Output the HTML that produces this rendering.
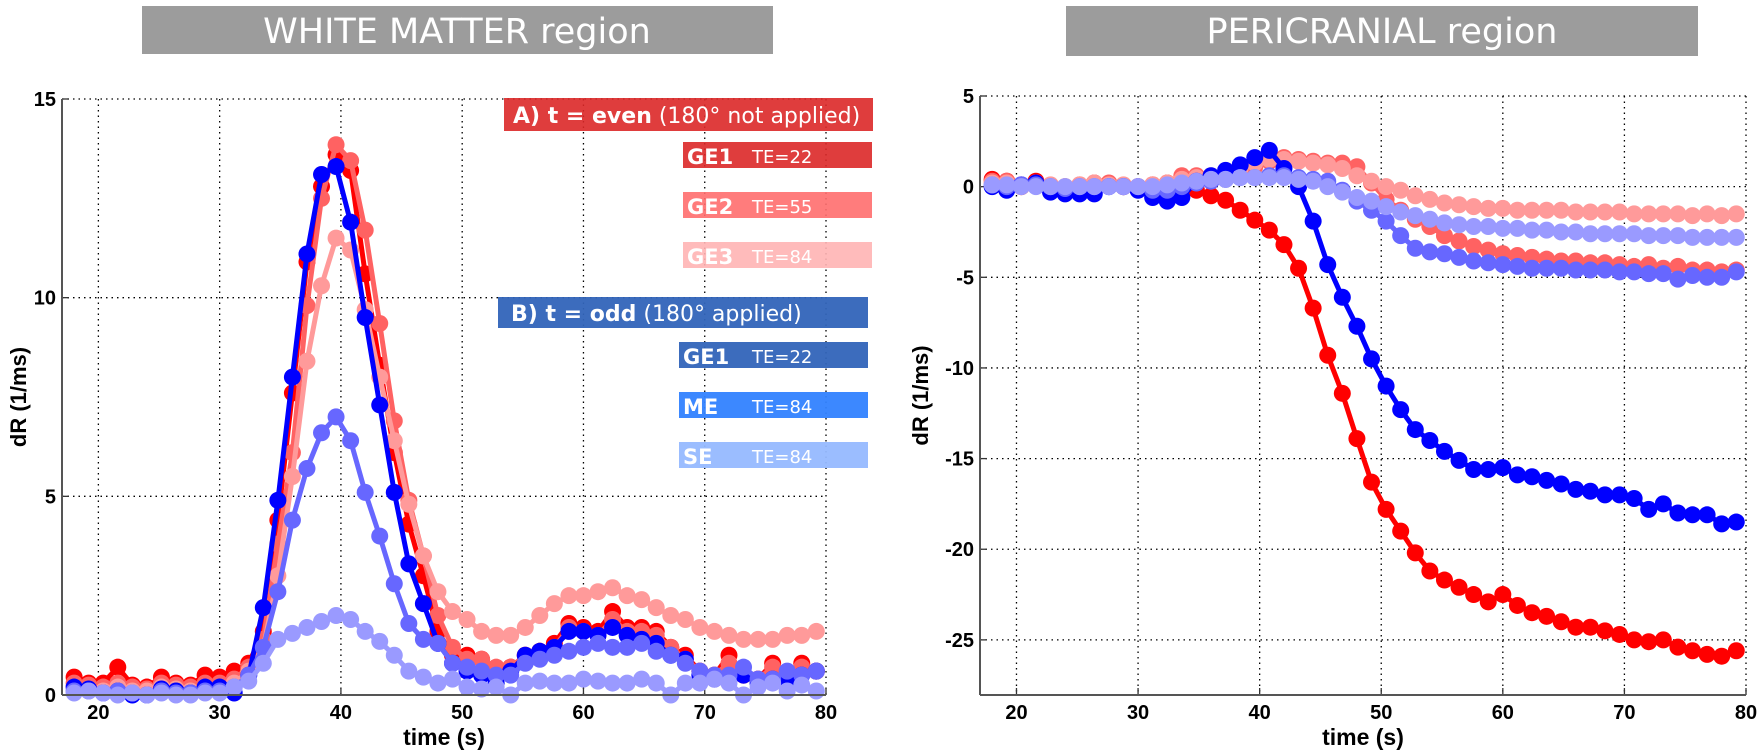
<!DOCTYPE html>
<html><head><meta charset="utf-8"><style>
html,body{margin:0;padding:0;background:#fff;}
#wrap{position:relative;width:1758px;height:751px;overflow:hidden;}
svg text{font-family:"Liberation Sans",sans-serif;}
</style></head><body>
<div id="wrap">
<svg id="fig" width="1758" height="751" xmlns="http://www.w3.org/2000/svg">
<rect x="142" y="6" width="631" height="48" fill="#9c9c9c"/>
<text x="457" y="43" text-anchor="middle" fill="#fff" style="font-family:'DejaVu Sans',sans-serif;font-size:35px">WHITE MATTER region</text>
<rect x="1066" y="6" width="632" height="50" fill="#9c9c9c"/>
<text x="1382" y="43" text-anchor="middle" fill="#fff" style="font-family:'DejaVu Sans',sans-serif;font-size:35px">PERICRANIAL region</text>
<g id="left"></g>
<g id="right"></g>
<g id="legend" style="font-family:'DejaVu Sans',sans-serif">
<rect x="504" y="98" width="369" height="33" fill="rgb(220,40,40)" fill-opacity="0.9"/>
<text x="513" y="123" fill="#fff" style="font-family:'DejaVu Sans',sans-serif;font-size:22px"><tspan font-weight="bold">A)  t = even</tspan> (180° not applied)</text>
<rect x="683" y="142" width="189" height="26" fill="rgb(220,40,40)" fill-opacity="0.9"/>
<text x="687" y="164" fill="#fff" style="font-family:'DejaVu Sans',sans-serif;font-size:21px;font-weight:bold">GE1</text>
<text x="752" y="163" fill="#fff" style="font-family:'DejaVu Sans',sans-serif;font-size:18px">TE=22</text>
<rect x="683" y="192" width="189" height="26" fill="rgb(255,110,110)" fill-opacity="0.9"/>
<text x="687" y="214" fill="#fff" style="font-family:'DejaVu Sans',sans-serif;font-size:21px;font-weight:bold">GE2</text>
<text x="752" y="213" fill="#fff" style="font-family:'DejaVu Sans',sans-serif;font-size:18px">TE=55</text>
<rect x="683" y="242" width="189" height="26" fill="rgb(255,180,180)" fill-opacity="0.9"/>
<text x="687" y="264" fill="#fff" style="font-family:'DejaVu Sans',sans-serif;font-size:21px;font-weight:bold">GE3</text>
<text x="752" y="263" fill="#fff" style="font-family:'DejaVu Sans',sans-serif;font-size:18px">TE=84</text>
<rect x="498" y="297" width="370" height="31" fill="rgb(50,100,185)" fill-opacity="0.95"/>
<text x="511" y="321" fill="#fff" style="font-family:'DejaVu Sans',sans-serif;font-size:22px"><tspan font-weight="bold">B)  t = odd</tspan> (180° applied)</text>
<rect x="679" y="342" width="189" height="26" fill="rgb(50,100,185)" fill-opacity="0.95"/>
<text x="683" y="364" fill="#fff" style="font-family:'DejaVu Sans',sans-serif;font-size:21px;font-weight:bold">GE1</text>
<text x="752" y="363" fill="#fff" style="font-family:'DejaVu Sans',sans-serif;font-size:18px">TE=22</text>
<rect x="679" y="392" width="189" height="26" fill="rgb(50,130,255)" fill-opacity="0.95"/>
<text x="683" y="414" fill="#fff" style="font-family:'DejaVu Sans',sans-serif;font-size:21px;font-weight:bold">ME</text>
<text x="752" y="413" fill="#fff" style="font-family:'DejaVu Sans',sans-serif;font-size:18px">TE=84</text>
<rect x="679" y="442" width="189" height="26" fill="rgb(150,185,255)" fill-opacity="0.95"/>
<text x="683" y="464" fill="#fff" style="font-family:'DejaVu Sans',sans-serif;font-size:21px;font-weight:bold">SE</text>
<text x="752" y="463" fill="#fff" style="font-family:'DejaVu Sans',sans-serif;font-size:18px">TE=84</text>
</g>
</svg>
</div>
<script>
const times=[18.0,19.2,20.4,21.6,22.8,24.0,25.2,26.4,27.6,28.8,30.0,31.2,32.4,33.6,34.8,36.0,37.2,38.4,39.6,40.8,42.0,43.2,44.4,45.6,46.8,48.0,49.2,50.4,51.6,52.8,54.0,55.2,56.4,57.6,58.8,60.0,61.2,62.4,63.6,64.8,66.0,67.2,68.4,69.6,70.8,72.0,73.2,74.4,75.6,76.8,78.0,79.2];
const xTicks=[20,30,40,50,60,70,80];
const leftYTicks=[0,5,10,15];
const rightYTicks=[5,0,-5,-10,-15,-20,-25];
const seriesNames=["ge1-a","ge2","ge3","ge1-b","me","se"];
const seriesColors=["#ff0000","#ff6262","#ff9a9a","#0000ff","#6767ff","#9a9aff"];
const L_ge1a=[0.45,0.3,0.3,0.7,0.25,0.2,0.45,0.3,0.25,0.5,0.45,0.6,0.8,1.6,4.4,7.6,10.9,12.8,13.6,13.2,10.6,8.3,6.1,4.3,3.0,1.6,1.0,1.0,0.9,0.6,0.7,1.0,1.1,1.3,1.8,1.7,1.6,2.1,1.7,1.7,1.6,1.2,1.0,0.6,0.5,1.0,0.5,0.4,0.8,0.5,0.8,0.6];
const L_ge2=[0.3,0.25,0.2,0.3,0.2,0.15,0.3,0.25,0.2,0.3,0.3,0.4,0.7,1.4,3.8,6.1,9.8,12.5,13.85,13.45,11.7,9.35,6.9,4.9,3.5,2.0,1.2,0.9,0.9,0.7,0.7,1.0,1.1,1.2,1.7,1.6,1.5,1.9,1.6,1.6,1.5,1.2,0.9,0.6,0.5,0.8,0.5,0.4,0.7,0.5,0.7,0.6];
const L_ge3=[0.2,0.15,0.1,0.2,0.1,0.1,0.2,0.15,0.1,0.2,0.2,0.3,0.6,1.2,3.0,5.5,8.4,10.3,11.5,11.2,9.7,8.0,6.4,4.8,3.5,2.6,2.1,1.9,1.6,1.5,1.5,1.7,2.0,2.3,2.5,2.5,2.6,2.7,2.5,2.4,2.2,2.0,1.9,1.7,1.6,1.5,1.4,1.4,1.4,1.5,1.5,1.6];
const L_ge1b=[0.2,0.15,0.05,0.1,0.0,0.0,0.15,0.1,0.05,0.2,0.2,0.05,0.5,2.2,4.9,8.0,11.1,13.1,13.3,11.9,9.5,7.3,5.1,3.3,2.3,1.3,0.8,0.6,0.5,0.3,0.6,1.0,1.1,1.2,1.6,1.6,1.5,1.7,1.5,1.4,1.3,1.0,0.9,0.5,0.4,0.4,0.5,0.3,0.4,0.3,0.5,0.6];
const L_me=[0.1,0.1,0.05,0.1,0.05,0.0,0.1,0.05,0.05,0.1,0.1,0.2,0.5,1.2,2.6,4.4,5.7,6.6,7.0,6.4,5.1,4.0,2.8,1.8,1.4,1.3,0.8,0.7,0.6,0.5,0.5,0.8,0.9,1.0,1.1,1.2,1.3,1.2,1.2,1.3,1.1,1.0,0.8,0.6,0.5,0.5,0.7,0.4,0.4,0.6,0.5,0.6];
const L_se=[0.05,0.1,0.05,0.0,0.05,0.0,0.05,0.0,0.0,0.05,0.05,0.2,0.35,0.8,1.4,1.55,1.7,1.85,2.0,1.9,1.6,1.35,1.0,0.6,0.45,0.3,0.4,0.2,0.15,0.2,0.0,0.3,0.35,0.3,0.3,0.4,0.35,0.3,0.3,0.4,0.3,0.0,0.3,0.3,0.4,0.3,0.0,0.2,0.3,0.1,0.25,0.1];
const R_ge1a=[0.4,0.3,0.0,0.3,0.0,-0.1,0.0,0.2,0.1,0.0,0.0,0.1,0.2,0.1,-0.2,-0.5,-0.75,-1.3,-1.85,-2.4,-3.2,-4.5,-6.7,-9.3,-11.4,-13.9,-16.3,-17.8,-19.0,-20.2,-21.2,-21.7,-22.1,-22.5,-22.9,-22.5,-23.1,-23.5,-23.7,-24.0,-24.3,-24.3,-24.5,-24.7,-25.0,-25.1,-25.0,-25.4,-25.6,-25.8,-25.9,-25.6];
const R_ge2=[0.3,0.3,0.0,0.2,0.0,0.0,0.1,0.2,0.2,0.0,0.0,0.0,0.1,0.6,0.6,0.5,0.7,0.9,1.1,1.4,1.6,1.5,1.4,1.3,1.3,1.1,0.2,-0.7,-1.3,-1.8,-2.2,-2.7,-3.0,-3.3,-3.5,-3.7,-3.8,-3.9,-4.0,-4.1,-4.1,-4.2,-4.2,-4.3,-4.4,-4.3,-4.5,-4.4,-4.6,-4.6,-4.7,-4.6];
const R_ge3=[0.2,0.2,0.1,0.2,0.1,0.0,0.1,0.2,0.1,0.1,0.0,0.1,0.2,0.4,0.5,0.6,0.8,1.0,1.3,1.5,1.5,1.4,1.3,1.2,1.0,0.6,0.3,0.0,-0.2,-0.5,-0.7,-0.9,-1.0,-1.1,-1.2,-1.2,-1.3,-1.3,-1.3,-1.3,-1.4,-1.4,-1.4,-1.4,-1.5,-1.5,-1.5,-1.5,-1.6,-1.5,-1.6,-1.5];
const R_ge1b=[0.0,-0.2,0.1,0.2,-0.3,-0.4,-0.4,-0.4,0.0,0.0,-0.2,-0.6,-0.8,-0.6,0.3,0.6,0.9,1.2,1.6,2.0,1.0,0.0,-1.9,-4.3,-6.1,-7.7,-9.5,-11.0,-12.3,-13.4,-14.0,-14.6,-15.1,-15.6,-15.6,-15.5,-15.9,-16.0,-16.2,-16.4,-16.7,-16.8,-17.0,-17.0,-17.2,-17.8,-17.5,-18.0,-18.1,-18.1,-18.6,-18.5];
const R_me=[0.1,0.0,0.1,0.1,0.0,-0.1,0.0,0.0,0.0,0.0,0.0,-0.2,-0.2,0.0,0.2,0.3,0.4,0.5,0.5,0.6,0.6,0.5,0.4,0.3,-0.2,-0.8,-1.3,-1.9,-2.7,-3.4,-3.6,-3.7,-3.9,-4.1,-4.2,-4.3,-4.4,-4.5,-4.5,-4.5,-4.6,-4.6,-4.6,-4.7,-4.7,-4.8,-4.8,-5.1,-4.9,-5.0,-5.0,-4.7];
const R_se=[0.1,0.1,0.0,0.0,0.0,0.0,0.0,0.0,0.0,0.0,0.0,0.0,0.1,0.2,0.3,0.4,0.4,0.5,0.5,0.5,0.5,0.4,0.3,0.0,-0.3,-0.6,-0.8,-1.1,-1.4,-1.6,-1.8,-2.0,-2.1,-2.2,-2.2,-2.3,-2.3,-2.4,-2.4,-2.5,-2.5,-2.6,-2.6,-2.6,-2.6,-2.7,-2.7,-2.7,-2.8,-2.8,-2.8,-2.8];
const leftSeries=[L_ge1a,L_ge2,L_ge3,L_ge1b,L_me,L_se];
const rightSeries=[R_ge1a,R_ge2,R_ge3,R_ge1b,R_me,R_se];

const NS="http://www.w3.org/2000/svg";
function mk(tag,attrs,parent){const e=document.createElementNS(NS,tag);for(const k in attrs)e.setAttribute(k,attrs[k]);parent.appendChild(e);return e;}

function drawPlot(g,cfg,series,yTicks,side){
  const sx=v=>cfg.x0+(v-cfg.xmin)/(cfg.xmax-cfg.xmin)*(cfg.x1-cfg.x0);
  const sy=v=>cfg.yb+(v-cfg.ymin)/(cfg.ymax-cfg.ymin)*(cfg.yt-cfg.yb);
  xTicks.forEach(t=>{
    const l=mk('line',{x1:sx(t),x2:sx(t),y1:cfg.yt,y2:cfg.yb,stroke:'#000','stroke-width':1.3,'stroke-dasharray':'1.5 4'},g);
    
    
    const tk=mk('line',{x1:sx(t),x2:sx(t),y1:cfg.yb,y2:cfg.yb-7,stroke:'#333','stroke-width':1.3},g);
    
    
    const tx=mk('text',{x:sx(t),y:cfg.yb+24,'text-anchor':'middle','font-size':20,'font-weight':'bold'},g);
    tx.textContent=t;
    
    
  });
  yTicks.forEach(t=>{
    const l=mk('line',{x1:cfg.x0,x2:cfg.x1,y1:sy(t),y2:sy(t),stroke:'#000','stroke-width':1.3,'stroke-dasharray':'1.5 4'},g);
    
    
    const tk=mk('line',{x1:cfg.x0,x2:cfg.x0+7,y1:sy(t),y2:sy(t),stroke:'#333','stroke-width':1.3},g);
    
    
    const tx=mk('text',{x:cfg.x0-6,y:sy(t)+7,'text-anchor':'end','font-size':20,'font-weight':'bold'},g);
    tx.textContent=t;
    
    
  });
  series.forEach((vals,si)=>{
    const sg=mk('g',{},g);
    
    
    const pts=vals.map((v,i)=>sx(times[i]).toFixed(1)+','+sy(v).toFixed(1)).join(' ');
    const pl=mk('polyline',{points:pts,fill:'none',stroke:seriesColors[si],'stroke-width':5,'stroke-linejoin':'round'},sg);
    
    
    vals.forEach((v,i)=>{
      const c=mk('circle',{cx:sx(times[i]),cy:sy(v),r:8.5,fill:seriesColors[si]},sg);
      
      
    });
  });
  const ax=mk('line',{x1:cfg.x0,x2:cfg.x0,y1:cfg.yt,y2:cfg.yb,stroke:'#555','stroke-width':2},g);
  
  
  const bx=mk('line',{x1:cfg.x0,x2:cfg.x1,y1:cfg.yb,y2:cfg.yb,stroke:'#555','stroke-width':2},g);
  
  
  const xt=mk('text',{x:(cfg.x0+cfg.x1)/2,y:cfg.yb+50,'text-anchor':'middle','font-size':23,'font-weight':'bold'},g);
  xt.textContent='time (s)';
  
  
  const yl=mk('text',{x:0,y:0,'text-anchor':'middle','font-size':22,'font-weight':'bold',transform:'translate('+cfg.ylabX+','+((cfg.yt+cfg.yb)/2)+') rotate(-90)'},g);
  yl.textContent='dR (1/ms)';
  
  
}
drawPlot(document.getElementById('left'),{x0:62,x1:826,xmin:17,xmax:80,yt:99,yb:695,ymin:0,ymax:15,ylabX:26},leftSeries,leftYTicks,'left');
drawPlot(document.getElementById('right'),{x0:980,x1:1746,xmin:17,xmax:80,yt:96,yb:695,ymin:-28.04,ymax:5,ylabX:928},rightSeries,rightYTicks,'right');
</script>
</body></html>
